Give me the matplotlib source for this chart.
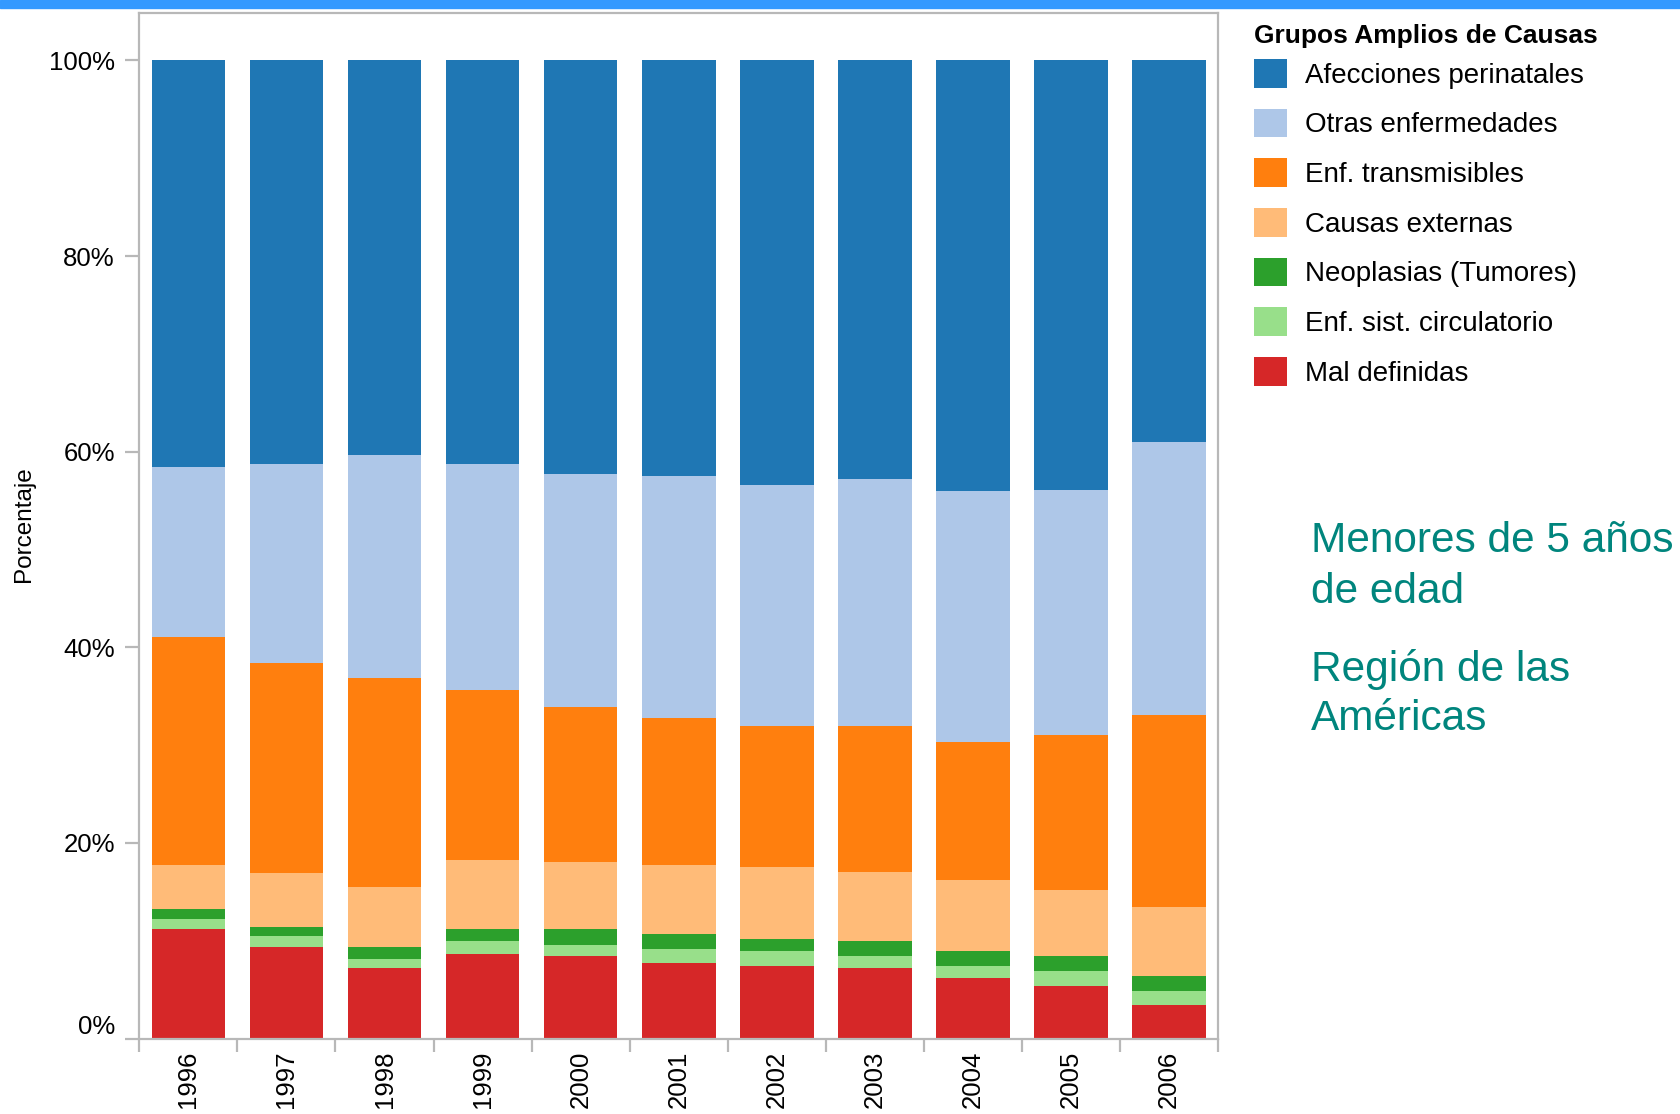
import matplotlib
matplotlib.use("Agg")
import matplotlib.pyplot as plt
from matplotlib.patches import Rectangle
from matplotlib.ticker import FuncFormatter, FixedLocator

plt.rcParams['font.family'] = ['Liberation Sans', 'DejaVu Sans']

# Años y porcentaje por grupo de causas (lectura del gráfico)
years = ['1996', '1997', '1998', '1999', '2000', '2001', '2002', '2003', '2004', '2005', '2006']

mal_definidas = [11.2, 9.4, 7.2, 8.6, 8.4, 7.7, 7.4, 7.2, 6.2, 5.4, 3.4]
circulatorio = [1.0, 1.1, 0.9, 1.4, 1.2, 1.5, 1.5, 1.2, 1.2, 1.5, 1.5]
neoplasias = [1.0, 0.9, 1.3, 1.2, 1.6, 1.5, 1.3, 1.6, 1.5, 1.5, 1.5]
causas_externas = [4.5, 5.5, 6.1, 7.0, 6.8, 7.0, 7.3, 7.0, 7.3, 6.8, 7.0]
transmisibles = [23.4, 21.5, 21.4, 17.4, 15.9, 15.1, 14.5, 15.0, 14.1, 15.8, 19.7]
otras = [17.3, 20.3, 22.8, 23.1, 23.8, 24.7, 24.6, 25.2, 25.7, 25.1, 27.9]
perinatales = [41.6, 41.3, 40.3, 41.3, 42.3, 42.5, 43.4, 42.8, 44.0, 43.9, 39.0]

# orden de apilado, de abajo hacia arriba
series = [
    ('Mal definidas', mal_definidas, '#d62728'),
    ('Enf. sist. circulatorio', circulatorio, '#98df8a'),
    ('Neoplasias (Tumores)', neoplasias, '#2ca02c'),
    ('Causas externas', causas_externas, '#ffbb78'),
    ('Enf. transmisibles', transmisibles, '#ff7f0e'),
    ('Otras enfermedades', otras, '#aec7e8'),
    ('Afecciones perinatales', perinatales, '#1f77b4'),
]

W, H = 1680, 1114
fig = plt.figure(figsize=(W / 100, H / 100), dpi=100)
ax = fig.add_axes([139.3 / W, 1 - 1038.5 / H, (1218.2 - 139.3) / W, (1038.5 - 12.5) / H])

# franja azul superior
fig.patches.append(Rectangle((0, 1 - 7.5 / H), 1, 7.5 / H, transform=fig.transFigure,
                             color='#3399ff', zorder=0))

x = list(range(len(years)))
bottom = [0.0] * len(years)
handles = []
for name, vals, col in series:
    b = ax.bar(x, vals, width=0.75, bottom=bottom, color=col, label=name, linewidth=0)
    handles.append(b)
    bottom = [bb + v for bb, v in zip(bottom, vals)]

ax.set_xlim(-0.5, len(years) - 0.5)
ax.set_ylim(0, 104.9)

gray = '#b8b8b8'
for s in ax.spines.values():
    s.set_color(gray)
    s.set_linewidth(1.6)

ax.yaxis.set_major_locator(FixedLocator([0, 20, 40, 60, 80, 100]))
ax.yaxis.set_major_formatter(FuncFormatter(lambda v, p: '%d%%' % v))
ax.tick_params(axis='y', length=10, width=1.6, color=gray, pad=7.5, labelsize=18.5)

ax.set_xticks(x)
ax.set_xticklabels(years, rotation=90, fontsize=18.5)
ax.set_xticks([i - 0.5 for i in range(len(years) + 1)], minor=True)
ax.tick_params(axis='x', which='major', length=0, pad=9)
ax.tick_params(axis='x', which='minor', length=9.5, width=1.6, color=gray)

# etiqueta 0% desplazada hacia arriba
ax.yaxis.get_major_ticks()[0].label1.set_va('bottom')

fig.text(23.6 / W, 1 - 524 / H, 'Porcentaje', rotation=90, ha='center', va='center', fontsize=17.5)

# leyenda
fig.text(1253.5 / W, 1 - 43.3 / H, 'Grupos Amplios de Causas', ha='left', va='baseline',
         fontsize=19, fontweight='bold')
fig.legend(handles[::-1], [s[0] for s in series][::-1], loc='upper left',
           bbox_to_anchor=(1253.5 / W, 1 - 59 / H), frameon=False,
           fontsize=20, handlelength=1.22, handleheight=1.22, labelspacing=0.715,
           handletextpad=0.65, borderpad=0, borderaxespad=0)

teal = '#00857d'
for txt, yb in [('Menores de 5 años', 552), ('de edad', 603),
                ('Región de las', 681.5), ('Américas', 730.5)]:
    fig.text(1311 / W, 1 - yb / H, txt, ha='left', va='baseline', fontsize=30.5, color=teal)

fig.savefig('out.png', dpi=100)
